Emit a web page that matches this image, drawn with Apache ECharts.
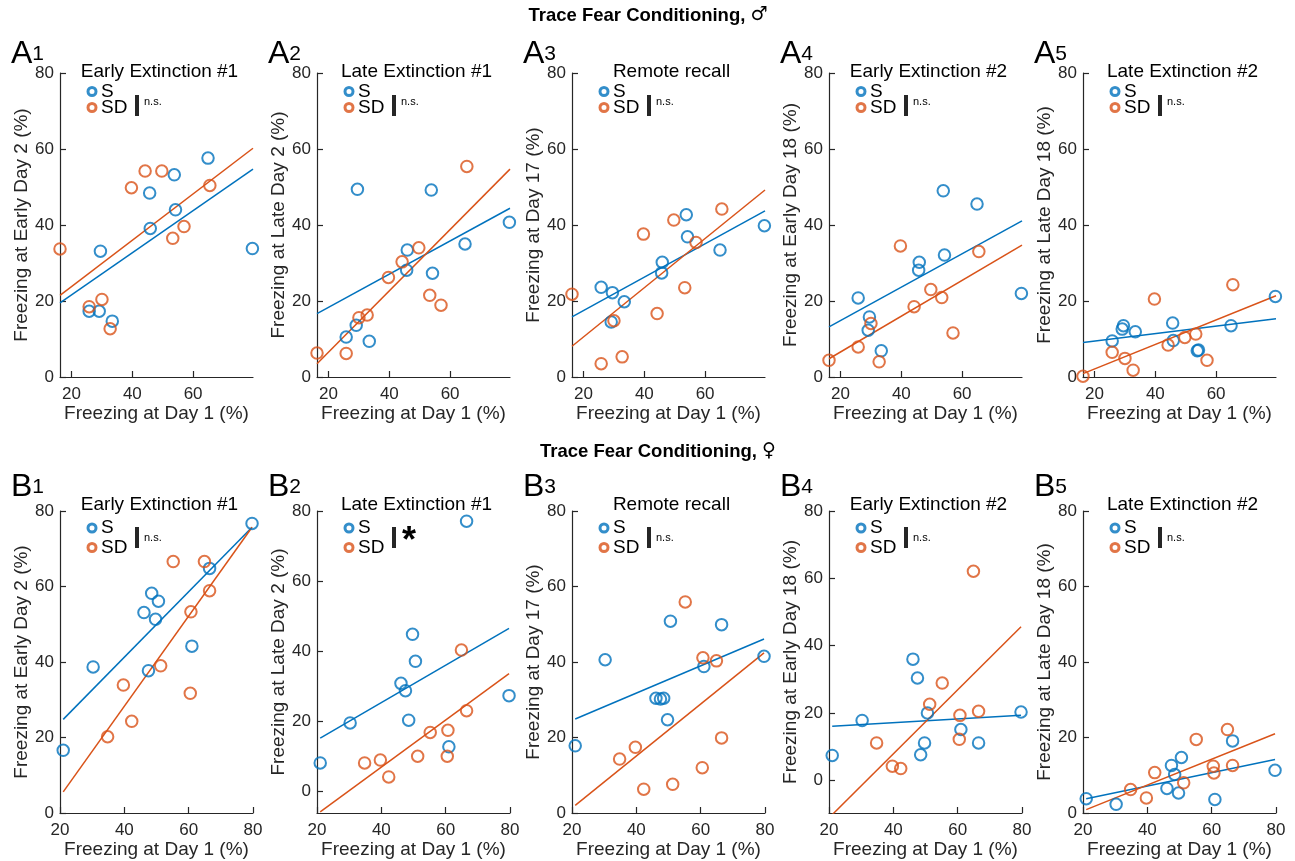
<!DOCTYPE html>
<html>
<head>
<meta charset="utf-8">
<script src="https://cdn.jsdelivr.net/npm/echarts@6/dist/echarts.min.js"></script>
<style>
  html, body { margin: 0; padding: 0; background: #fff; }
  #chart { width: 1295px; height: 861px; }
</style>
</head>
<body>
<div id="chart"></div>
<script>
const BLUE = '#0072BD';
const ORANGE = '#D95319';
const INK = '#262626';
const FONT = '"Liberation Sans", Arial, "DejaVu Sans", sans-serif';

// text
const rowTitles = ['Trace Fear Conditioning, ', 'Trace Fear Conditioning, '];
const rowSymbols = ['\u2642', '\u2640'];
const rowLetters = ['A', 'B'];
const panelTitles = ['Early Extinction #1', 'Late Extinction #1', 'Remote recall', 'Early Extinction #2', 'Late Extinction #2'];
const yNames = ['Freezing at Early Day 2 (%)', 'Freezing at Late Day 2 (%)', 'Freezing at Day 17 (%)',
  'Freezing at Early Day 18 (%)', 'Freezing at Late Day 18 (%)'];
const xName = 'Freezing at Day 1 (%)';
const sigMale = ['n.s.', 'n.s.', 'n.s.', 'n.s.', 'n.s.'];
const sigFemale = ['n.s.', '*', 'n.s.', 'n.s.', 'n.s.'];

// ticks
const maleTicksX = [20, 40, 60];
const femaleTicksX = [20, 40, 60, 80];
const ticksY = [0, 20, 40, 60, 80];
const maleXRange = [16.2, 79.7];
const femaleXRange = [20, 80];
const maleYMin = [0, 0, 0, 0, 0];
const femaleYMin = [0, -6.2, 0, -9.7, 0];

// male: freezing at day 1
const maleS_x = [25.8, 29.1, 29.5, 33.4, 45.7, 45.9, 53.8, 54.2, 64.9, 79.5];
const maleSD_x = [16.2, 25.8, 30.0, 32.7, 39.7, 44.2, 49.7, 53.3, 57.0, 65.5];

const a1_S = [17.3, 17.3, 33.1, 14.7, 48.4, 39.1, 53.2, 44.0, 57.6, 33.8];
const a1_SD = [33.7, 18.5, 20.4, 12.7, 49.8, 54.2, 54.2, 36.5, 39.6, 50.4];
const a2_S = [10.5, 13.6, 49.4, 9.4, 28.1, 33.4, 49.2, 27.3, 35.0, 40.7];
const a2_SD = [6.3, 6.2, 15.6, 16.3, 26.2, 30.3, 34.0, 21.5, 18.9, 55.4];
const a3_S = [23.6, 14.5, 22.2, 19.8, 27.4, 30.2, 42.7, 36.9, 33.4, 39.8];
const a3_SD = [21.8, 3.5, 14.8, 5.3, 37.6, 16.7, 41.3, 23.5, 35.4, 44.2];
const a4_S = [20.8, 12.3, 15.8, 6.9, 28.1, 30.2, 49.0, 32.1, 45.5, 22.0];
const a4_SD = [4.4, 7.9, 14.1, 4.0, 34.5, 18.5, 23.0, 20.9, 11.6, 33.0];
const a5_S = [9.5, 12.6, 13.5, 11.9, 14.2, 9.6, 6.9, 7.1, 13.5, 21.2];
const a5_SD = [0.2, 6.5, 4.9, 1.8, 20.5, 8.4, 10.4, 11.3, 4.4, 24.3];

// male regression lines (end points)
const a1_fitS = [[16.2, 19.5], [79.7, 54.7]];
const a1_fitSD = [[16.2, 21.5], [79.7, 60.2]];
const a2_fitS = [[16.2, 16.7], [79.7, 44.4]];
const a2_fitSD = [[16.2, 3.5], [79.7, 54.7]];
const a3_fitS = [[16.2, 15.8], [79.7, 43.7]];
const a3_fitSD = [[16.2, 8.1], [79.7, 49.2]];
const a4_fitS = [[16.2, 13.2], [79.7, 41.1]];
const a4_fitSD = [[16.2, 4.8], [79.7, 34.7]];
const a5_fitS = [[16.2, 9.1], [79.7, 15.3]];
const a5_fitSD = [[16.2, 0.9], [79.7, 21.4]];

// female: freezing at day 1
const femaleS_x = [21.0, 30.3, 46.1, 47.5, 48.5, 49.7, 50.6, 61.0, 66.5, 79.7];
const femaleSD_x = [34.8, 39.7, 42.3, 51.3, 55.2, 60.5, 60.7, 64.9, 66.5];

const b1_S = [16.6, 38.7, 53.1, 37.7, 58.2, 51.3, 56.1, 44.2, 64.8, 76.7];
const b1_SD = [20.2, 33.9, 24.3, 39.0, 66.6, 31.7, 53.3, 66.6, 58.9];
const b2_S = [8.1, 19.5, 30.8, 28.7, 20.3, 44.8, 37.1, 12.7, 77.1, 27.3];
const b2_SD = [8.1, 8.9, 4.1, 10.0, 16.8, 10.0, 17.4, 40.3, 23.0];
const b3_S = [17.8, 40.6, 30.4, 30.2, 30.4, 24.7, 50.8, 38.8, 49.9, 41.5];
const b3_SD = [14.3, 17.4, 6.3, 7.6, 55.9, 12.0, 41.1, 40.3, 19.9];
const b4_S = [7.4, 17.8, 36.0, 30.4, 7.6, 11.1, 20.0, 15.1, 11.1, 20.3];
const b4_SD = [11.1, 4.2, 3.5, 22.6, 28.9, 12.2, 19.3, 62.1, 20.5];
const b5_S = [3.8, 2.3, 6.5, 12.6, 10.2, 5.3, 14.7, 3.6, 19.1, 11.3];
const b5_SD = [6.2, 4.0, 10.7, 8.0, 19.5, 12.4, 10.6, 22.1, 12.6];

// female regression lines (end points)
const b1_fitS = [[21, 24.8], [79.7, 75.7]];
const b1_fitSD = [[21, 5.6], [79.7, 75.7]];
const b2_fitS = [[21, 15.2], [79.7, 46.5]];
const b2_fitSD = [[21, -5.9], [79.7, 33.6]];
const b3_fitS = [[21, 24.9], [79.7, 46.1]];
const b3_fitSD = [[21, 2.0], [79.7, 42.4]];
const b4_fitS = [[21, 16.1], [79.7, 19.3]];
const b4_fitSD = [[21, -10.2], [79.7, 45.6]];
const b5_fitS = [[21, 3.8], [79.7, 14.2]];
const b5_fitSD = [[21, 0.9], [79.7, 21.0]];

const maleS = [a1_S, a2_S, a3_S, a4_S, a5_S];
const maleSD = [a1_SD, a2_SD, a3_SD, a4_SD, a5_SD];
const maleFitS = [a1_fitS, a2_fitS, a3_fitS, a4_fitS, a5_fitS];
const maleFitSD = [a1_fitSD, a2_fitSD, a3_fitSD, a4_fitSD, a5_fitSD];
const femaleS = [b1_S, b2_S, b3_S, b4_S, b5_S];
const femaleSD = [b1_SD, b2_SD, b3_SD, b4_SD, b5_SD];
const femaleFitS = [b1_fitS, b2_fitS, b3_fitS, b4_fitS, b5_fitS];
const femaleFitSD = [b1_fitSD, b2_fitSD, b3_fitSD, b4_fitSD, b5_fitSD];

// layout
const gridLefts = [60, 317, 572, 829, 1083];
const gridW = 193;
const gridTops = [73, 511];
const gridHs = [304, 302];

const chart = echarts.init(document.getElementById('chart'));

const grids = [], xAxes = [], yAxes = [], series = [], titles = [], legends = [], graphics = [];

const supRich = {
  t: { fontSize: 18.5, fontWeight: 'bold', color: '#000', fontFamily: FONT },
  s: { fontSize: 19, fontWeight: 'normal', color: '#000', fontFamily: '"DejaVu Sans", sans-serif' }
};
titles.push({ text: '{t|' + rowTitles[0] + '}{s|' + rowSymbols[0] + '}', left: 648, top: 6, textAlign: 'center',
  padding: 0, textStyle: { rich: supRich } });
titles.push({ text: '{t|' + rowTitles[1] + '}{s|' + rowSymbols[1] + '}', left: 658, top: 442, textAlign: 'center',
  padding: 0, textStyle: { rich: supRich } });

const pairs = (xs, ys) => xs.map((x, i) => [x, ys[i]]);

for (let r = 0; r < 2; r++) {
  for (let c = 0; c < 5; c++) {
    const p = r * 5 + c;
    const gl = gridLefts[c], gt = gridTops[r];
    const male = r === 0;

    grids.push({ left: gl, top: gt, width: gridW, height: gridHs[r], outerBoundsMode: 'none' });

    const xt = male ? maleTicksX : femaleTicksX;
    const xr = male ? maleXRange : femaleXRange;
    xAxes.push({
      type: 'value', gridIndex: p, min: xr[0], max: xr[1],
      name: xName, nameLocation: 'middle', nameGap: male ? 26 : 24.5,
      nameTextStyle: { fontSize: 19, color: INK, fontFamily: FONT },
      axisLine: { onZero: false, lineStyle: { color: INK, width: 1.2 } },
      axisTick: { inside: true, length: 6, customValues: xt, lineStyle: { color: INK, width: 1.2 } },
      axisLabel: { customValues: xt, fontSize: 17, color: INK, margin: 9, fontFamily: FONT },
      splitLine: { show: false }
    });
    yAxes.push({
      type: 'value', gridIndex: p, min: male ? maleYMin[c] : femaleYMin[c], max: 80,
      name: yNames[c], nameLocation: 'middle', nameGap: 27, nameRotate: 90,
      nameTextStyle: { fontSize: 19, color: INK, fontFamily: FONT },
      axisLine: { onZero: false, lineStyle: { color: INK, width: 1.2 } },
      axisTick: { inside: true, length: 6, customValues: ticksY, lineStyle: { color: INK, width: 1.2 } },
      axisLabel: { customValues: ticksY, fontSize: 17, color: INK, margin: 6, fontFamily: FONT },
      splitLine: { show: false }
    });

    const sx = male ? maleS_x : femaleS_x;
    const dx = male ? maleSD_x : femaleSD_x;
    const sy = male ? maleS[c] : femaleS[c];
    const dy = male ? maleSD[c] : femaleSD[c];
    const fitS = male ? maleFitS[c] : femaleFitS[c];
    const fitSD = male ? maleFitSD[c] : femaleFitSD[c];

    series.push({ type: 'line', name: 'S fit', xAxisIndex: p, yAxisIndex: p, data: fitS,
      symbol: 'none', silent: true, z: 2, lineStyle: { color: BLUE, width: 1.5 }, itemStyle: { color: BLUE } });
    series.push({ type: 'line', name: 'SD fit', xAxisIndex: p, yAxisIndex: p, data: fitSD,
      symbol: 'none', silent: true, z: 2, lineStyle: { color: ORANGE, width: 1.5 }, itemStyle: { color: ORANGE } });
    series.push({ type: 'scatter', name: 'S', xAxisIndex: p, yAxisIndex: p, data: pairs(sx, sy),
      symbol: 'circle', symbolSize: 11.5, z: 3,
      itemStyle: { color: 'transparent', borderColor: BLUE, borderWidth: 2 } });
    series.push({ type: 'scatter', name: 'SD', xAxisIndex: p, yAxisIndex: p, data: pairs(dx, dy),
      symbol: 'circle', symbolSize: 11.5, z: 3,
      itemStyle: { color: 'transparent', borderColor: ORANGE, borderWidth: 2 } });

    // panel title
    titles.push({ text: panelTitles[c], left: gl + gridW / 2 + 3, top: male ? 62 : 495,
      textAlign: 'center', padding: 0,
      textStyle: { fontSize: 19, fontWeight: 'normal', color: '#000', fontFamily: FONT } });
    // panel letter
    titles.push({ text: '{a|' + rowLetters[r] + '}{b|' + (c + 1) + '}', left: gl - 49, top: male ? 38 : 471,
      padding: 0,
      textStyle: { rich: {
        a: { fontSize: 32, fontWeight: 'normal', color: '#000', fontFamily: FONT },
        b: { fontSize: 21, fontWeight: 'normal', color: '#000', fontFamily: FONT }
      } } });

    legends.push({
      orient: 'vertical', left: gl + 26.5, top: male ? gt + 9 : gt + 7.5, padding: 0,
      itemGap: male ? -3 : 0.5, itemWidth: 8, itemHeight: 8, icon: 'circle', selectedMode: false,
      textStyle: { fontSize: 19, color: '#000', fontFamily: FONT },
      data: [
        { name: 'S', itemStyle: { color: 'transparent', borderColor: BLUE, borderWidth: 3 } },
        { name: 'SD', itemStyle: { color: 'transparent', borderColor: ORANGE, borderWidth: 3 } }
      ]
    });

    // significance bar + label
    const bx = gl + 75;
    const by = male ? gt + 22 : gt + 16;
    graphics.push({ type: 'rect', shape: { x: bx, y: by, width: 4, height: 21 }, style: { fill: INK } });
    const sig = male ? sigMale[c] : sigFemale[c];
    if (sig === '*') {
      graphics.push({ type: 'text', x: bx + 10, y: by - 3,
        style: { text: '*', fontSize: 36, fontWeight: 'bold', fill: '#000', fontFamily: FONT } });
    } else {
      graphics.push({ type: 'text', x: bx + 9, y: male ? gt + 23 : gt + 21,
        style: { text: sig, fontSize: 11, fill: '#000', fontFamily: FONT } });
    }
  }
}

chart.setOption({
  animation: false,
  backgroundColor: '#fff',
  title: titles,
  legend: legends,
  grid: grids,
  xAxis: xAxes,
  yAxis: yAxes,
  series: series,
  graphic: graphics
});
</script>
</body>
</html>
